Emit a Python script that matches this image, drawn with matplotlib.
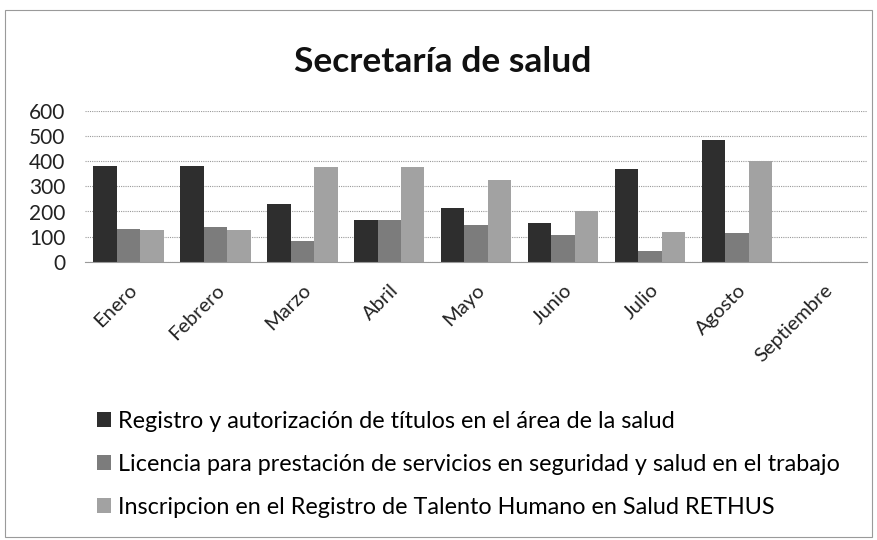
import matplotlib.pyplot as plt
import numpy as np
from matplotlib.patches import Rectangle

# datos
meses = ['Enero', 'Febrero', 'Marzo', 'Abril', 'Mayo', 'Junio', 'Julio', 'Agosto', 'Septiembre']
registro = [380, 380, 230, 168, 215, 153, 370, 485, 0]
licencia = [130, 140, 82, 165, 145, 105, 45, 115, 0]
rethus = [125, 125, 377, 375, 325, 200, 120, 400, 0]

series = ['Registro y autorización de títulos en el área de la salud',
          'Licencia para prestación de servicios en seguridad y salud en el trabajo',
          'Inscripcion en el Registro de Talento Humano en Salud RETHUS']
colores = ['#2e2e2e', '#7c7c7c', '#a2a2a2']
yticks = [0, 100, 200, 300, 400, 500, 600]

plt.rcParams['font.family'] = ['Lato', 'DejaVu Sans']

fig = plt.figure(figsize=(8.77, 5.4), dpi=100)
ax = fig.add_axes([0.097, 0.515, 0.892, 0.28])

x = np.arange(len(meses))
w = 0.27
for i, (vals, lab, c) in enumerate(zip([registro, licencia, rethus], series, colores)):
    ax.bar(x + (i - 1) * w, vals, w, color=c, label=lab, zorder=2)

ax.set_xlim(-0.5, len(meses) - 0.5)
ax.set_ylim(0, 600)
ax.set_yticks(yticks)
ax.set_yticklabels([str(v) for v in yticks], fontsize=15, color='#222222')
ax.set_xticks(x)
ax.set_xticklabels(meses, rotation=45, ha='right', va='top', rotation_mode='anchor',
                   fontsize=14.5, color='#222222')
ax.tick_params(axis='both', length=0)
ax.tick_params(axis='y', pad=14)
ax.tick_params(axis='x', pad=14)
ax.grid(axis='y', color='#9a9a9a', linewidth=0.8, linestyle=(0, (1, 1)), zorder=0)
for s in ['top', 'right', 'left']:
    ax.spines[s].set_visible(False)
ax.spines['bottom'].set_color('#9a9a9a')
ax.spines['bottom'].set_linewidth(0.8)

fig.text(0.505, 0.885, 'Secretaría de salud', ha='center', va='center',
         fontsize=25.5, fontweight='bold', color='#111111')

handles, labels = ax.get_legend_handles_labels()
fig.legend(handles, labels, loc='upper left', bbox_to_anchor=(0.1, 0.257),
           frameon=False, fontsize=16.8, handlelength=0.6, handleheight=0.6,
           handletextpad=0.3, labelspacing=0.95, borderaxespad=0)

# marco exterior del grafico
fig.add_artist(Rectangle((0.006, 0.006), 0.988, 0.976, transform=fig.transFigure,
                         fill=False, edgecolor='#9a9a9a', linewidth=0.8))

fig.savefig('out.png', dpi=100)
